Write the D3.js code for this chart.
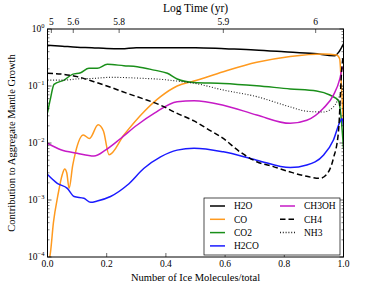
<!DOCTYPE html>
<html lang="en">
<head>
<meta charset="utf-8">
<script src="https://cdn.jsdelivr.net/npm/d3@7"></script>
<style>
  body { margin: 0; background: #fff; }
  text { font-family: "Liberation Serif", "DejaVu Serif", serif; fill: #000; }
</style>
</head>
<body>
<div id="chart"></div>
<script>
// ---- data (fraction of ice molecules, contribution) ----
const h2oX = [0, 0.05, 0.1, 0.15, 0.2, 0.25, 0.3, 0.4, 0.5, 0.6, 0.7, 0.8, 0.9, 0.97, 0.985, 1.0];
const h2oY = [0.52, 0.50, 0.48, 0.47, 0.455, 0.45, 0.47, 0.47, 0.47, 0.45, 0.43, 0.40, 0.37, 0.34, 0.40, 0.55];

const coX = [0.004, 0.01, 0.02, 0.035, 0.05, 0.058, 0.065, 0.073, 0.085, 0.095, 0.121, 0.142, 0.171, 0.189, 0.208, 0.258, 0.326, 0.382, 0.438, 0.495, 0.594, 0.707, 0.82, 0.932, 0.977, 0.987, 0.993, 1.0];
const coY = [0.00008, 0.00012, 0.0004, 0.0012, 0.0028, 0.0035, 0.003, 0.0016, 0.004, 0.007, 0.0138, 0.012, 0.0209, 0.0162, 0.0062, 0.0138, 0.0354, 0.065, 0.1, 0.122, 0.178, 0.26, 0.33, 0.365, 0.35, 0.3, 0.1, 0.02];

const co2X = [0, 0.01, 0.022, 0.056, 0.084, 0.112, 0.14, 0.168, 0.202, 0.258, 0.303, 0.36, 0.405, 0.438, 0.495, 0.594, 0.707, 0.82, 0.909, 0.954, 0.983, 0.99, 1.0];
const co2Y = [0.034, 0.06, 0.107, 0.127, 0.16, 0.171, 0.204, 0.204, 0.24, 0.227, 0.218, 0.19, 0.167, 0.133, 0.115, 0.111, 0.101, 0.089, 0.082, 0.0695, 0.055, 0.035, 0.008];

const h2coX = [0, 0.033, 0.067, 0.09, 0.123, 0.146, 0.168, 0.213, 0.27, 0.326, 0.382, 0.438, 0.495, 0.594, 0.707, 0.82, 0.876, 0.932, 0.966, 0.988, 0.995, 1.0];
const h2coY = [0.0028, 0.00196, 0.0016, 0.00115, 0.00107, 0.00091, 0.00096, 0.00115, 0.00183, 0.0036, 0.0057, 0.0075, 0.0081, 0.007, 0.005, 0.0037, 0.0041, 0.0061, 0.0113, 0.0236, 0.027, 0.02];

const ch3ohX = [0, 0.045, 0.1, 0.157, 0.197, 0.247, 0.303, 0.36, 0.438, 0.495, 0.594, 0.707, 0.82, 0.876, 0.932, 0.966, 0.988, 0.995, 1.0];
const ch3ohY = [0.0099, 0.0076, 0.0066, 0.0059, 0.0076, 0.012, 0.0207, 0.033, 0.053, 0.055, 0.046, 0.031, 0.0221, 0.025, 0.0407, 0.069, 0.136, 0.2, 0.22];

const ch4X = [0, 0.056, 0.1, 0.157, 0.213, 0.27, 0.326, 0.382, 0.438, 0.495, 0.538, 0.594, 0.65, 0.707, 0.763, 0.82, 0.876, 0.921, 0.943, 0.966, 0.983, 0.995, 1.0];
const ch4Y = [0.167, 0.16, 0.146, 0.119, 0.095, 0.074, 0.059, 0.046, 0.033, 0.0244, 0.018, 0.012, 0.007, 0.0047, 0.00385, 0.0031, 0.0026, 0.0024, 0.0028, 0.0054, 0.0158, 0.23, 0.35];

const nh3X = [0, 0.056, 0.1, 0.157, 0.213, 0.27, 0.326, 0.382, 0.438, 0.495, 0.594, 0.707, 0.82, 0.876, 0.932, 0.966, 0.988, 1.0];
const nh3Y = [0.127, 0.127, 0.133, 0.136, 0.142, 0.14, 0.136, 0.131, 0.122, 0.112, 0.085, 0.065, 0.043, 0.036, 0.035, 0.043, 0.069, 0.1];

// top axis: log time tick labels and where they fall on the x axis
const logTimeLabels = ["5", "5.6", "5.8", "5.9", "6"];
const logTimeAt = [0.013, 0.087, 0.242, 0.594, 0.906];

const xTicks = [0, 0.2, 0.4, 0.6, 0.8, 1.0];
const yExponents = [0, -1, -2, -3, -4];

const series = [
  { name: "H2O", xs: h2oX, ys: h2oY, color: "#000000", dash: null, w: 1.5 },
  { name: "CO", xs: coX, ys: coY, color: "#ff9a1f", dash: null, w: 1.5 },
  { name: "CO2", xs: co2X, ys: co2Y, color: "#1a8f1a", dash: null, w: 1.5 },
  { name: "H2CO", xs: h2coX, ys: h2coY, color: "#1a1aff", dash: null, w: 1.5 },
  { name: "CH3OH", xs: ch3ohX, ys: ch3ohY, color: "#c61ac6", dash: null, w: 1.5 },
  { name: "CH4", xs: ch4X, ys: ch4Y, color: "#000000", dash: "5.5,3", w: 1.5 },
  { name: "NH3", xs: nh3X, ys: nh3Y, color: "#222222", dash: "1,1.8", w: 1.1 },
];

// ---- layout ----
const W = 382, H = 287;
const margin = { top: 29, right: 38.5, bottom: 30, left: 47.5 };
const width = W - margin.left - margin.right;
const height = H - margin.top - margin.bottom;

const svg = d3.select("#chart").append("svg")
  .attr("width", W).attr("height", H);
const g = svg.append("g").attr("transform", `translate(${margin.left},${margin.top})`);

const x = d3.scaleLinear().domain([0, 1]).range([0, width]);
const y = d3.scaleLog().domain([1e-4, 1]).range([height, 0]);

g.append("clipPath").attr("id", "clip")
  .append("rect").attr("width", width).attr("height", height);

// lines
const line = d3.line()
  .x(d => x(d[0]))
  .y(d => y(Math.max(d[1], 1e-6)))
  .curve(d3.curveMonotoneX);

g.append("g").attr("clip-path", "url(#clip)")
  .selectAll("path")
  .data(series)
  .enter()
  .append("path")
  .attr("d", s => line(s.xs.map((v, i) => [v, s.ys[i]])))
  .attr("fill", "none")
  .attr("stroke", s => s.color)
  .attr("stroke-width", s => s.w)
  .attr("stroke-dasharray", s => s.dash);

// ---- axes (ticks inward, like matplotlib classic) ----
const minorTicks = [];
for (let e = -4; e < 0; e++) {
  for (let m = 2; m <= 9; m++) minorTicks.push(m * Math.pow(10, e));
}
const majorVals = yExponents.map(e => Math.pow(10, e));

// left + right y ticks
[0, width].forEach(edge => {
  const dir = edge === 0 ? 1 : -1;
  g.append("g").selectAll("line").data(majorVals).enter().append("line")
    .attr("x1", edge).attr("x2", edge + dir * 4)
    .attr("y1", d => y(d)).attr("y2", d => y(d))
    .attr("stroke", "#000").attr("stroke-width", 0.6);
  g.append("g").selectAll("line").data(minorTicks).enter().append("line")
    .attr("x1", edge).attr("x2", edge + dir * 2)
    .attr("y1", d => y(d)).attr("y2", d => y(d))
    .attr("stroke", "#000").attr("stroke-width", 0.5);
});

// y labels 10^k
const yLab = g.append("g").selectAll("text").data(yExponents).enter().append("text")
  .attr("x", -3).attr("y", d => y(Math.pow(10, d)) + 3)
  .attr("text-anchor", "end")
  .attr("font-size", 9.5);
yLab.append("tspan").text("10");
yLab.append("tspan").attr("dy", -4).attr("font-size", 6.5)
  .text(d => d === 0 ? "0" : "\u2212" + (-d));

// bottom x ticks
g.append("g").selectAll("line").data(xTicks).enter().append("line")
  .attr("x1", d => x(d)).attr("x2", d => x(d))
  .attr("y1", height).attr("y2", height - 4)
  .attr("stroke", "#000").attr("stroke-width", 0.6);
g.append("g").selectAll("text").data(xTicks).enter().append("text")
  .attr("x", d => x(d)).attr("y", height + 10)
  .attr("text-anchor", "middle").attr("font-size", 9.5)
  .text(d => d.toFixed(1));

// top log-time ticks
g.append("g").selectAll("line").data(logTimeAt).enter().append("line")
  .attr("x1", d => x(d)).attr("x2", d => x(d))
  .attr("y1", 0).attr("y2", 4)
  .attr("stroke", "#000").attr("stroke-width", 0.6);
g.append("g").selectAll("text").data(logTimeLabels).enter().append("text")
  .attr("x", (d, i) => x(logTimeAt[i])).attr("y", -4)
  .attr("text-anchor", "middle").attr("font-size", 9.5)
  .text(d => d);

// frame
g.append("rect").attr("width", width).attr("height", height)
  .attr("fill", "none").attr("stroke", "#000").attr("stroke-width", 1);

// axis titles
svg.append("text").attr("x", margin.left + width / 2).attr("y", 12)
  .attr("text-anchor", "middle").attr("font-size", 11.5).text("Log Time (yr)");
svg.append("text").attr("x", margin.left + width / 2).attr("y", 281)
  .attr("text-anchor", "middle").attr("font-size", 10.5).text("Number of Ice Molecules/total");
svg.append("text")
  .attr("transform", `translate(15,${margin.top + height / 2}) rotate(-90)`)
  .attr("text-anchor", "middle").attr("font-size", 10.5)
  .text("Contribution to Aggregate Mantle Growth");

// ---- legend ----
const legX = 204 - margin.left, legY = 198 - margin.top;
const leg = g.append("g").attr("transform", `translate(${legX},${legY})`);
leg.append("rect").attr("width", 136).attr("height", 57)
  .attr("fill", "#fff").attr("stroke", "#000").attr("stroke-width", 0.7);
const items = leg.selectAll("g.item").data(series).enter().append("g")
  .attr("transform", (d, i) => {
    const col = i < 4 ? 0 : 1;
    const row = i < 4 ? i : i - 4;
    return `translate(${6 + col * 70},${8 + row * 13.3})`;
  });
items.append("line").attr("x1", 0).attr("x2", 15).attr("y1", 0).attr("y2", 0)
  .attr("stroke", d => d.color).attr("stroke-width", 1.5)
  .attr("stroke-dasharray", d => d.dash);
items.append("text").attr("x", 24).attr("y", 3.2).attr("font-size", 9.5)
  .text(d => d.name);
</script>
</body>
</html>
